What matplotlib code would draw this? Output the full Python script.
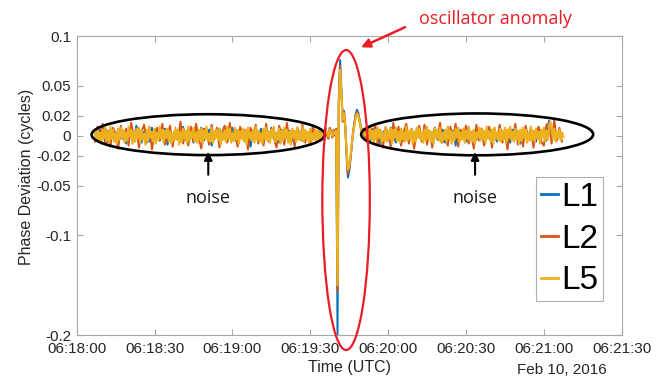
import numpy as np
import matplotlib
matplotlib.use('Agg')
import matplotlib.pyplot as plt
from matplotlib.patches import Ellipse

# phase deviation in milli-cycles, time in seconds after 06:18:00
# L1 and L2 noise read every 1 s, L5 noise every 0.5 s, anomaly every 0.5 s
l1_left = [3, -5, 6, -2, 8, -7, 4, 1, -6, 7, -3, 5, -8, 2, 6, -4, 10, -1, -7, 4, 3, -6, 8, -2, 5, -5, 1, 7, -9, 3,
           -3, 6, -1, -6, 9, -4, 2, 5, -7, 4, -2, 8, -5, 1, 6, -10, 3, -1, 7, -4, 5, -6, 2, 8, -3, -7, 4, 6, -2, 3,
           -11, 5, 1, -5, 7, -3, 4, -6, 8, -1, 2, -7, 6, -4, 3, 5, -2, -9, 7, 1, -5, 4, -3, 6, -1, 3, -2]
l2_left = [-6, 9, -3, 12, -9, 5, -11, 8, 2, -13, 10, -4, 7, -10, 13, -2, 6, -12, 4, 11, -7, 9, -14, 3, 8, -5, 12, -9, 1, 10,
           -11, 6, -3, 14, -8, 4, -10, 9, -6, 12, -2, -13, 7, 5, -9, 11, -4, 8, -12, 3, 10, -7, 13, -5, 2, -11, 9, -3, 6, -14,
           8, -1, 11, -8, 4, -10, 12, -6, 7, -3, -12, 10, 2, -9, 13, -5, 6, -11, 8, -4, 11, -7, 3, -9, 10, -2, 5]
l5_left = [5, -4, 7, -6, 3, -8, 6, -2, 8, -5, 4, -7, 9, -3, 6, -6, 2, -8, 7, -4, 8, -2, 5, -7, 3, -5, 9, -1, 6, -8,
           4, -6, 7, -3, 8, -7, 5, -4, 2, -9, 6, -5, 8, -2, 4, -6, 7, -8, 3, -4, 9, -3, 6, -7, 5, -2, 7, -6, 4, -8,
           2, -5, 8, -4, 6, -9, 3, -6, 7, -3, 5, -7, 9, -5, 4, -2, 8, -6, 3, -7, 6, -4, 7, -8, 5, -3, 9, -5, 2, -6,
           8, -7, 4, -2, 6, -5, 7, -9, 3, -4, 5, -6, 9, -3, 7, -7, 2, -5, 8, -4, 6, -8, 4, -3, 7, -6, 5, -9, 8, -2,
           3, -5, 6, -7, 9, -4, 5, -6, 2, -8, 7, -3, 8, -5, 4, -7, 6, -2, 9, -6, 3, -4, 7, -8, 5, -5, 8, -3, 6, -7,
           4, -9, 7, -2, 5, -6, 8, -4, 3, -5, 9, -6, 6, -3, 4, -8, 7, -5, 2, -4, 6, -7, 5, -3]

l1_anom = [3, -4, 5, 0, -3, 6, 1, -2, 7, 4, -1, 5, 1, 6, -200, 40, 76, 46, 17, 25, 9, -20, -42, -36, -24, -10, 3, 13, 22, 26,
           23, 16, 9, 5, 7, 1, 4]
l2_anom = [4, -5, 6, -1, -4, 7, 0, -3, 8, 5, -2, 6, 0, 7, -156, 34, 70, 43, 14, 24, 8, -18, -38, -33, -22, -9, 4, 12, 20, 24,
           21, 15, 6, 7, 3, -2, 6]
l5_anom = [2, -3, 4, 1, -2, 5, 2, -1, 6, 3, 0, 4, 2, 5, -150, 30, 66, 40, 16, 22, 10, -15, -34, -30, -20, -8, 2, 10, 18, 22,
           20, 14, 8, 4, 6, 0, 3]

l1_right = [4, -6, 7, -2, 5, -8, 3, 6, -4, 8, -1, -7, 5, 2, -5, 9, -3, 4, -8, 6, 1, -6, 7, -2, 3, -5, 8, -4, 2, 6,
            -7, 4, -1, 5, -10, 7, -3, 3, -6, 8, -2, 5, -4, 1, 7, -9, 4, -3, 6, -1, -6, 9, -5, 2, 4, -7, 6, -2, 3, -8,
            5, 1, -4, 7, -3, -6, 8, -1, 4, -5, 15, -2, 6, -4, 3, -1]
l2_right = [-7, 10, -3, 12, -9, 6, -12, 8, 3, -11, 13, -5, 9, -10, 4, 12, -8, 7, -13, 2, 10, -6, 11, -9, 5, -12, 8, -2, 13, -7,
            3, -10, 9, -4, 12, -11, 6, -3, 10, -8, 2, -13, 11, -5, 7, -10, 4, 9, -12, 6, -2, 11, -7, 3, -14, 8, -4, 12, -9, 5,
            -11, 10, -3, 7, -12, 4, 9, -6, -10, 11, 12, -8, 16, -5, 8, -6]
l5_right = [4, -6, 7, -3, 5, -8, 6, -4, 8, -2, 5, -7, 3, -5, 9, -6, 4, -3, 7, -8, 6, -2, 8, -5, 4, -7, 7, -4, 3, -6,
            9, -5, 5, -3, 6, -8, 4, -6, 8, -2, 7, -4, 3, -7, 6, -5, 9, -3, 5, -6, 4, -8, 7, -2, 6, -5, 8, -7, 3, -4,
            6, -6, 9, -3, 5, -8, 4, -5, 7, -2, 8, -6, 3, -4, 7, -7, 5, -3, 9, -5, 4, -6, 6, -8, 3, -2, 8, -5, 7, -4,
            5, -7, 9, -3, 4, -6, 6, -8, 8, -3, 3, -5, 7, -6, 5, -4, 8, -7, 6, -2, 9, -4, 4, -6, 7, -3, 5, -8, 6, -5,
            8, -2, 6, -7, 3, -5, 9, -4, 5, -6, 7, -3, 4, -8, 6, -2, 8, -5, 5, -4, 9, 14, 6, -3, 7, -6, 4, -2, 6, -5,
            3, -1]

series_names = ['L1', 'L2', 'L5']
series_colors = ['#0072BD', '#D95319', '#EDB120']
noise_steps = [1.0, 1.0, 0.5]
series_widths = [1.4, 1.4, 1.6]
left_start, anom_start, right_start = 7, 93.5, 112

y_ticks = [-0.2, -0.1, -0.05, -0.02, 0, 0.02, 0.05, 0.1]
y_tick_labels = ['-0.2', '-0.1', '-0.05', '-0.02', '0', '0.02', '0.05', '0.1']
x_ticks = [0, 30, 60, 90, 120, 150, 180, 210]
x_tick_labels = ['06:18:00', '06:18:30', '06:19:00', '06:19:30', '06:20:00', '06:20:30', '06:21:00', '06:21:30']


def build(left, anom, right, step):
    t = np.concatenate([left_start + step * np.arange(len(left)),
                        anom_start + 0.5 * np.arange(len(anom)),
                        right_start + step * np.arange(len(right))])
    v = np.concatenate([left, anom, right]) / 1000.0
    return t, v


raw = [(l1_left, l1_anom, l1_right), (l2_left, l2_anom, l2_right), (l5_left, l5_anom, l5_right)]
all_series = [build(a, b, c, s) for (a, b, c), s in zip(raw, noise_steps)]

plt.rcParams['font.family'] = ['Liberation Sans', 'DejaVu Sans']
txt = '#262626'
frame = '#a8a8a8'

fig = plt.figure(figsize=(6.65, 3.83), dpi=100)
ax = fig.add_axes([0.1153, 0.1253, 0.8196, 0.7807])

for (t, v), name, c, w in zip(all_series, series_names, series_colors, series_widths):
    ax.plot(t, v, color=c, lw=w, label=name)

ax.set_xlim(0, 210)
ax.set_ylim(-0.2, 0.1)
ax.set_xticks(x_ticks)
ax.set_xticklabels(x_tick_labels)
ax.set_yticks(y_ticks)
ax.set_yticklabels(y_tick_labels)
ax.tick_params(direction='in', length=4, width=0.8, color=frame, labelcolor=txt, labelsize=11,
               top=True, right=True)
ax.tick_params(axis='x', pad=5)
ax.tick_params(axis='y', pad=4)
for s in ax.spines.values():
    s.set_color(frame)
    s.set_linewidth(0.8)

ax.set_xlabel('Time (UTC)', fontsize=11.5, color=txt, labelpad=3)
ax.set_ylabel('Phase Deviation (cycles)', fontsize=11.5, color=txt)
ax.yaxis.set_label_coords(-0.079, 0.53)
fig.text(562 / 665, 0.034, 'Feb 10, 2016', fontsize=11, color=txt, ha='center', va='center')

leg = ax.legend(loc='upper left', bbox_to_anchor=(0.843, 0.529), fontsize=24, handlelength=0.5,
                handletextpad=0.1, labelspacing=0.32, borderpad=0.15, borderaxespad=0,
                fancybox=False, framealpha=1, edgecolor='#b0b0b0')
leg.get_frame().set_linewidth(0.8)
for line in leg.get_lines():
    line.set_linewidth(2)

# annotations
ann_font = ['Open Sans', 'DejaVu Sans']
ax.add_patch(Ellipse((50.7, 0.001), 89.9, 0.041, fill=False, ec='black', lw=1.9, clip_on=False, zorder=5))
ax.add_patch(Ellipse((154.3, 0.0013), 89.4, 0.042, fill=False, ec='black', lw=1.9, clip_on=False, zorder=5))
ax.add_patch(Ellipse((103.8, -0.0646), 18.3, 0.301, fill=False, ec='#ec1c24', lw=1.6, clip_on=False, zorder=6))

for xc in [50.7, 153.5]:
    ax.annotate('', xy=(xc, -0.0135), xytext=(xc, -0.042), annotation_clip=False,
                arrowprops=dict(arrowstyle='-|>', color='black', lw=1.5, mutation_scale=12))
    ax.text(xc, -0.0623, 'noise', family=ann_font, fontsize=13, color='#1a1a1a', ha='center', va='center')

ax.annotate('', xy=(108.6, 0.0875), xytext=(127.5, 0.110), annotation_clip=False,
            arrowprops=dict(arrowstyle='-|>', color='#ec1c24', lw=1.8, mutation_scale=13))
ax.text(161.2, 0.1175, 'oscillator anomaly', family=ann_font, fontsize=13, color='#ec1c24',
        ha='center', va='center', clip_on=False)

fig.savefig('out.png', dpi=100)
